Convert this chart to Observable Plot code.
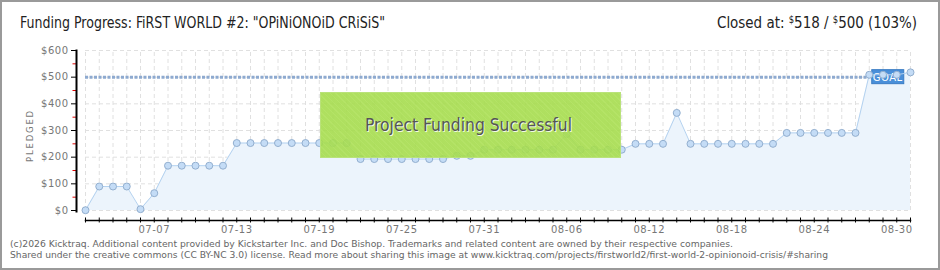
<!DOCTYPE html>
<html><head><meta charset="utf-8">
<script src="https://cdn.jsdelivr.net/npm/d3@7"></script>
<script src="https://cdn.jsdelivr.net/npm/@observablehq/plot@0.6"></script>
<style>
html,body{margin:0;padding:0;background:#fff;}
#wrap{position:relative;width:940px;height:270px;overflow:hidden;font-family:"Liberation Sans Narrow","DejaVu Sans Condensed",sans-serif;background:#fff;}
#frame{position:absolute;left:0;top:0;width:940px;height:270px;box-sizing:border-box;border:2px solid #9a9a9a;pointer-events:none;}
.fit{position:absolute;white-space:nowrap;transform-origin:left top;}
#title{left:20px;top:16px;font-size:15px;line-height:15px;color:#222;}
#closed{top:15px;font-size:16px;line-height:16px;color:#222;}
#closed sup{font-size:10px;vertical-align:5px;line-height:0;}
#chart{position:absolute;left:0;top:40px;}
#success{position:absolute;left:320px;top:92px;width:301px;height:66px;box-sizing:border-box;border:1px solid #b9e27a;
  background:repeating-linear-gradient(45deg,rgba(166,220,78,0.9) 0 3px,rgba(172,224,86,0.9) 3px 4px);}
#successText{font-size:18px;line-height:18px;color:#555;text-shadow:1px 1px 0 rgba(255,255,255,0.85);top:116px;}
.foot{font-family:"DejaVu Sans",sans-serif;font-size:9px;line-height:9px;color:#666;}
#f1{top:239.7px;}
#f2{top:251.4px;}
</style>
</head><body>
<div id="wrap">
  <div id="chart"></div>
  <div id="success"></div>
  <div id="successText" class="fit">Project Funding Successful</div>
  <div id="title" class="fit">Funding Progress: FiRST WORLD #2: "OPiNiONOiD CRiSiS"</div>
  <div id="closed" class="fit">Closed at: <sup>$</sup>518 / <sup>$</sup>500 (103%)</div>
  <div id="f1" class="fit foot">(c)2026 Kicktraq. Additional content provided by Kickstarter Inc. and Doc Bishop. Trademarks and related content are owned by their respective companies.</div>
  <div id="f2" class="fit foot">Shared under the creative commons (CC BY-NC 3.0) license. Read more about sharing this image at www.kicktraq.com/projects/firstworld2/first-world-2-opinionoid-crisis/#sharing</div>
  <div id="frame"></div>
</div>
<script>
// ---- data ----
const startDate = "2015-07-02";
const endDate = "2015-08-31";
const pledged = [1,90,90,90,5,65,168,168,168,168,168,253,253,253,253,253,253,253,253,253,
  193,193,193,193,193,193,193,205,205,228,228,228,228,228,228,287,228,228,228,228,
  250,250,250,366,250,250,250,250,250,250,250,291,291,291,291,291,291,509,509,509,518];
const goal = 500;
const goalEndDate = "2015-08-28";
const yTicks = [0,100,200,300,400,500,600];
const yMinorTicks = [50,150,250,350,450,550];
const xLabelDates = ["2015-07-07","2015-07-13","2015-07-19","2015-07-25","2015-07-31","2015-08-06","2015-08-12","2015-08-18","2015-08-24","2015-08-30"];
const goalLabel = "GOAL";

// ---- build ----
const d0 = new Date(startDate + "T00:00Z");
const d1 = new Date(endDate + "T00:00Z");
const days = d3.utcDay.range(d0, d3.utcDay.offset(d1, 1));
const data = days.map((date, i) => ({date, pledged: pledged[i]}));
const labelDates = xLabelDates.map(s => new Date(s + "T00:00Z"));
const goalEnd = new Date(goalEndDate + "T00:00Z");

const goalBadge = (index, scales) => {
  const g = document.createElementNS("http://www.w3.org/2000/svg", "g");
  const x = scales.x(goalEnd) + 3, y = scales.y(goal);
  g.innerHTML = `<rect x="${x}" y="${y - 7}" width="32" height="14" fill="#4a8fd9" stroke="#3a7cc4" stroke-width="1"/>` +
    `<text x="${x + 16}" y="${y + 4}" text-anchor="middle" fill="#fff" font-size="10" font-family="DejaVu Sans" letter-spacing="0.5">${goalLabel}</text>`;
  return g;
};

const grid = {stroke: "#e0e0e0", strokeDasharray: "4,3"};
const chart = Plot.plot({
  width: 940, height: 200,
  marginTop: 10, marginRight: 30, marginBottom: 20, marginLeft: 76,
  insetLeft: 9, insetBottom: 10,
  style: {fontFamily: "DejaVu Sans", fontSize: "10px", color: "#777", background: "transparent", overflow: "visible", letterSpacing: "0.5px"},
  x: {type: "utc", domain: [days[0], days[days.length - 1]]},
  y: {domain: [0, 600]},
  marks: [
    Plot.ruleY(yTicks, {x1: days[0], x2: days[days.length - 1], ...grid}),
    Plot.ruleX(days, {y1: 0, y2: 600, ...grid}),
    Plot.areaY(data, {x: "date", y: "pledged", fill: "#ecf4fc"}),
    Plot.ruleY([goal], {x1: days[0], x2: goalEnd, stroke: "#8eaad0", strokeWidth: 3, strokeDasharray: "3,1.5"}),
    goalBadge,
    Plot.lineY(data, {x: "date", y: "pledged", stroke: "#b4d2f0", strokeWidth: 1}),
    Plot.dot(data, {x: "date", y: "pledged", r: 3.5, fill: "#c4dcf6", stroke: "#93afcf", strokeWidth: 1}),
    Plot.axisY(yMinorTicks, {tickFormat: () => "", tickSize: 3.5, stroke: "#e00000", label: null}),
    Plot.axisY(yTicks, {tickFormat: d => "$" + d, tickSize: 5, tickPadding: 3, stroke: "#000", fill: "#777",
      label: "PLEDGED", labelAnchor: "center", labelOffset: 50, labelArrow: false}),
    Plot.frame({anchor: "left", insetBottom: 9, stroke: "#000", strokeWidth: 2}),
    Plot.frame({anchor: "bottom", insetLeft: 9, stroke: "#000", strokeWidth: 1.5}),
    Plot.axisX(days, {tickFormat: () => "", tickSize: 5, dy: -2.5, stroke: "#000", label: null}),
    Plot.axisX(labelDates, {tickFormat: "%m-%d", tickSize: 0, tickPadding: 5, fill: "#777", label: null})
  ]
});
document.getElementById("chart").appendChild(chart);
chart.querySelectorAll('g[aria-label="y-axis label"] text').forEach(t => {
  t.style.fontSize = "8.5px";
  t.style.letterSpacing = "1.8px";
});

// fit text blocks to their measured widths in the reference
function fit(id, left, width) {
  const el = document.getElementById(id);
  const w = el.getBoundingClientRect().width;
  el.style.left = left + "px";
  el.style.transform = `scaleX(${width / w})`;
}
fit("title", 20, 365);
fit("closed", 717, 200);
fit("successText", 365, 207);
fit("f1", 10, 723);
fit("f2", 10, 818);
</script>
</body></html>
